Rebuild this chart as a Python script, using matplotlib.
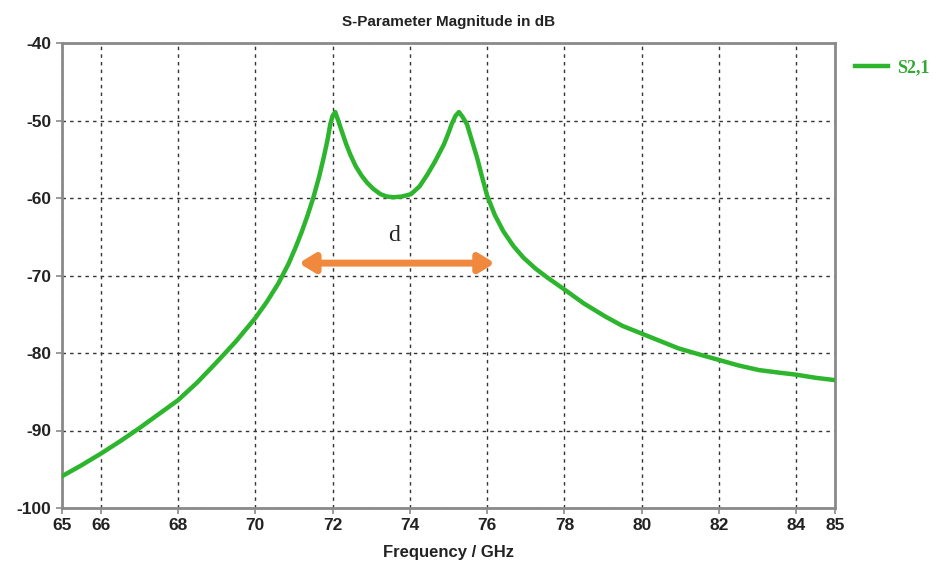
import matplotlib
matplotlib.use("Agg")
import matplotlib.pyplot as plt

# S2,1 magnitude (GHz, dB)
freq_ghz = [65, 65.5, 66, 66.5, 67, 67.5, 68, 68.5, 69, 69.5, 70, 70.3, 70.6,
            70.86, 71.05, 71.2, 71.35, 71.5, 71.65, 71.77, 71.87, 71.94, 72.0,
            72.07, 72.14, 72.24, 72.35, 72.46, 72.6, 72.75, 72.89, 73.05, 73.24,
            73.4, 73.58, 73.8, 74.03, 74.25, 74.45, 74.65, 74.88, 75.0, 75.08,
            75.18, 75.27, 75.36, 75.48, 75.6, 75.74, 75.87, 76.0, 76.2, 76.42,
            76.68, 76.94, 77.25, 77.54, 77.97, 78.5, 79.06, 79.5, 80, 80.5,
            80.95, 81.5, 82, 82.5, 83.03, 83.5, 84, 84.5, 85]
s21_db = [-95.9, -94.5, -93.0, -91.4, -89.7, -87.9, -86.1, -83.8, -81.2, -78.5,
          -75.5, -73.4, -71.0, -68.5, -66.3, -64.4, -62.3, -60.0, -57.3, -54.8,
          -52.5, -50.5, -49.4, -48.9, -49.9, -51.4, -53.0, -54.4, -55.9, -57.1,
          -58.0, -58.8, -59.5, -59.8, -59.9, -59.8, -59.5, -58.5, -57.0, -55.3,
          -53.1, -51.6, -50.5, -49.4, -48.9, -49.5, -50.5, -52.5, -54.8, -57.3,
          -59.7, -62.2, -64.3, -66.2, -67.7, -69.1, -70.2, -71.7, -73.6, -75.3,
          -76.5, -77.5, -78.5, -79.4, -80.2, -80.9, -81.6, -82.2, -82.5, -82.8,
          -83.2, -83.5]

x_ticks = [65, 66, 68, 70, 72, 74, 76, 78, 80, 82, 84, 85]
y_ticks = [-100, -90, -80, -70, -60, -50, -40]

# bandwidth marker "d"
arrow_x = (71.13, 76.2)
arrow_y = -68.4
label_d = "d"

green = "#2db52d"
orange = "#f0883e"
frame = "#8a8a8a"

plt.rcParams["font.family"] = ["Liberation Sans Narrow", "Liberation Sans", "DejaVu Sans"]
plt.rcParams["axes.unicode_minus"] = False

fig = plt.figure(figsize=(9.45, 5.74), dpi=100)
ax = fig.add_axes([0.0656, 0.115, 0.8180, 0.810])

ax.plot(freq_ghz, s21_db, color=green, lw=3.2, label="S2,1", zorder=3,
        solid_joinstyle="round")

ax.set_xlim(65, 85)
ax.set_ylim(-100, -40)
ax.set_xticks(x_ticks)
ax.set_yticks(y_ticks)
ax.tick_params(axis="both", colors=frame, labelcolor="#222222", length=4,
               width=1.2, labelsize=12.5)
for lab in ax.get_xticklabels() + ax.get_yticklabels():
    lab.set_fontweight("bold")

ax.grid(True, color="#333333", linestyle=(0, (2.5, 3)), linewidth=1.0)
for sp in ax.spines.values():
    sp.set_color(frame)
    sp.set_linewidth(2)

ax.set_title("S-Parameter Magnitude in dB", fontsize=11, fontweight="bold",
             pad=12, color="#222222")
ax.set_xlabel("Frequency / GHz", fontsize=12, fontweight="bold", color="#222222",
              labelpad=8)

ax.annotate("", xy=(arrow_x[1], arrow_y), xytext=(arrow_x[0], arrow_y),
            arrowprops=dict(arrowstyle="<|-|>,head_length=0.9,head_width=0.55",
                            color=orange, lw=5, shrinkA=0, shrinkB=0), zorder=4)
ax.text(73.58, -64.8, label_d, fontsize=17, family="Liberation Serif",
        ha="center", va="center", color="#222222", zorder=5)

leg = ax.legend(loc="upper left", bbox_to_anchor=(1.005, 1.0), frameon=False,
                handlelength=1.8, handletextpad=0.5,
                prop={"family": "Liberation Serif", "weight": "bold", "size": 13})
for t in leg.get_texts():
    t.set_color("#33a833")

fig.savefig("out.png", dpi=100)
